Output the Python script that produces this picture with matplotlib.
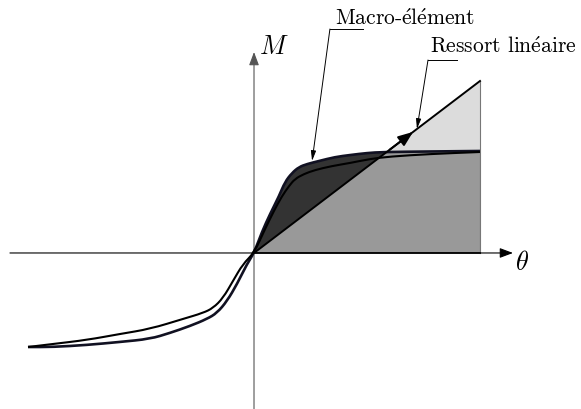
import numpy as np
import matplotlib.pyplot as plt
from matplotlib.path import Path
from matplotlib.patches import Polygon, PathPatch

plt.rcParams['mathtext.fontset'] = 'cm'

# macro-element curve (outer branch on the right, lower branch on the left)
macro_theta = [-1.0, -0.889, -0.739, -0.593, -0.460, -0.372, -0.283, -0.208, -0.164, -0.119, -0.075, -0.031,
               0.0, 0.035, 0.071, 0.111, 0.137, 0.168, 0.199, 0.235, 0.288, 0.358, 0.425, 0.500, 0.571, 0.779, 1.0]
macro_m = [-0.931, -0.931, -0.911, -0.881, -0.851, -0.792, -0.723, -0.653, -0.594, -0.475, -0.307, -0.109,
           0.0, 0.208, 0.386, 0.564, 0.703, 0.792, 0.851, 0.881, 0.911, 0.950, 0.970, 0.990, 1.000, 1.005, 1.01]

# second curve (inner branch on the right, upper branch on the left)
inner_theta = [-1.0, -0.889, -0.739, -0.593, -0.460, -0.314, -0.226, -0.181, -0.137, -0.093, -0.049,
               0.0, 0.049, 0.088, 0.124, 0.155, 0.181, 0.221, 0.270, 0.345, 0.425, 0.513, 0.602, 0.779, 1.0]
inner_m = [-0.931, -0.901, -0.861, -0.802, -0.752, -0.653, -0.594, -0.545, -0.446, -0.277, -0.109,
           0.0, 0.238, 0.416, 0.564, 0.663, 0.733, 0.782, 0.822, 0.861, 0.891, 0.931, 0.955, 0.980, 1.0]

# linear spring
lin_theta = [0.0, 1.0]
lin_m = [0.0, 1.703]


def smooth_path(xs, ys, close_to=None):
    # quadratic B-spline drawn through the midpoints, control points = read points
    pts = list(zip(xs, ys))
    verts = [pts[0]]
    codes = [Path.MOVETO]
    mids = [((pts[i][0] + pts[i + 1][0]) / 2, (pts[i][1] + pts[i + 1][1]) / 2) for i in range(len(pts) - 1)]
    verts.append(mids[0])
    codes.append(Path.LINETO)
    for i in range(1, len(pts) - 1):
        verts += [pts[i], mids[i]]
        codes += [Path.CURVE3, Path.CURVE3]
    verts.append(pts[-1])
    codes.append(Path.LINETO)
    if close_to is not None:
        for p in close_to:
            verts.append(p)
            codes.append(Path.LINETO)
        verts.append(pts[0])
        codes.append(Path.CLOSEPOLY)
    return Path(verts, codes)


fig = plt.figure(figsize=(5.81, 4.10), dpi=100)
ax = fig.add_axes([0, 0, 1, 1])
ax.set_xlim(-1.124, 1.447)
ax.set_ylim(-1.545, 2.515)
ax.axis('off')

# fills
tri = Polygon([(lin_theta[0], 0), (lin_theta[1], lin_m[1]), (lin_theta[1], 0)], closed=True,
              facecolor='#dcdcdc', edgecolor='none', zorder=1)
ax.add_patch(tri)
rt = [t for t in macro_theta if t >= 0]
rm = [m for t, m in zip(macro_theta, macro_m) if t >= 0]
ax.add_patch(PathPatch(smooth_path(rt, rm, close_to=[(1.0, 0.0)]), facecolor='#333333', lw=0, zorder=2))
mid = PathPatch(smooth_path(rt, rm, close_to=[(1.0, 0.0)]), facecolor='#999999', lw=0, zorder=3)
ax.add_patch(mid)
mid.set_clip_path(tri)
ax.plot([1.0, 1.0], [0, lin_m[1]], color='#777777', lw=0.8, zorder=4)
ax.plot([0, 1.0], [0, 0], color='black', lw=1.2, zorder=4)

# axes
ax.annotate('', xy=(1.146, 0), xytext=(-1.08, 0),
            arrowprops=dict(arrowstyle='-|>,head_length=0.8,head_width=0.3', color='black', lw=0.8,
                            shrinkA=0, shrinkB=0), zorder=5)
ax.annotate('', xy=(0, 1.99), xytext=(0, -1.545),
            arrowprops=dict(arrowstyle='-|>,head_length=0.8,head_width=0.3', color='#555555', lw=0.8,
                            shrinkA=0, shrinkB=0), zorder=5)
ax.text(0.02, 2.05, r'$M$', fontsize=19, ha='left', va='center')
ax.text(1.155, -0.09, r'$\theta$', fontsize=19, ha='left', va='center')

# curves
ax.add_patch(PathPatch(smooth_path(macro_theta, macro_m), facecolor='none', edgecolor='#111122',
                       lw=1.9, zorder=6))
ax.add_patch(PathPatch(smooth_path(inner_theta, inner_m), facecolor='none', edgecolor='black',
                       lw=1.5, zorder=6))
ax.plot(lin_theta, lin_m, color='black', lw=1.4, zorder=6)
ax.annotate('', xy=(0.704, 1.199), xytext=(0.6, 1.022),
            arrowprops=dict(arrowstyle='-|>,head_length=0.9,head_width=0.35', color='black', lw=1.4,
                            shrinkA=0, shrinkB=0), zorder=7)

# leader labels
fam = 'cmr10'
ax.plot([0.336, 0.482], [2.218, 2.218], color='black', lw=0.7)
ax.annotate('', xy=(0.257, 0.911), xytext=(0.336, 2.218),
            arrowprops=dict(arrowstyle='-|>,head_length=0.6,head_width=0.15', color='black', lw=0.7,
                            shrinkA=0, shrinkB=0))
ax.text(0.358, 2.267, r'Macro-$\acute{\mathrm{e}}$l$\acute{\mathrm{e}}$ment', fontsize=15.5, family=fam,
        ha='left', va='baseline')
ax.plot([0.770, 0.898], [1.911, 1.911], color='black', lw=0.7)
ax.annotate('', xy=(0.721, 1.228), xytext=(0.770, 1.911),
            arrowprops=dict(arrowstyle='-|>,head_length=0.6,head_width=0.15', color='black', lw=0.7,
                            shrinkA=0, shrinkB=0))
ax.text(0.779, 1.99, r'Ressort lin$\acute{\mathrm{e}}$aire', fontsize=15.5, family=fam,
        ha='left', va='baseline')

fig.savefig('out.png', dpi=100)
